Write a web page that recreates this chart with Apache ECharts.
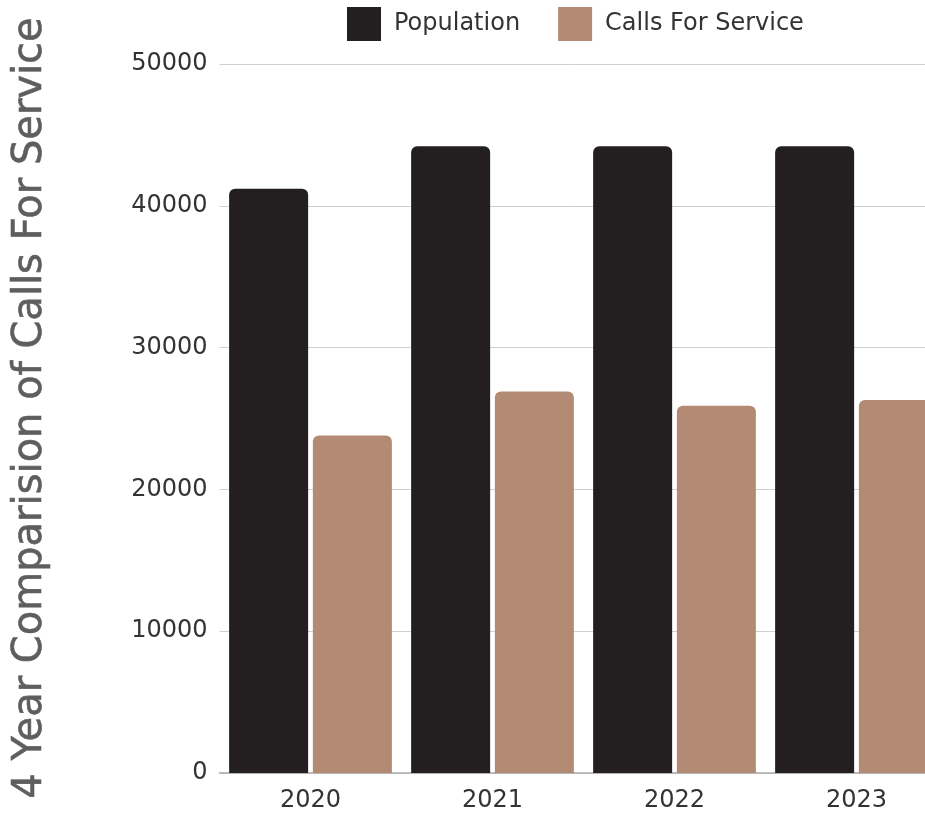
<!DOCTYPE html>
<html>
<head>
<meta charset="utf-8">
<script src="https://cdn.jsdelivr.net/npm/echarts@6/dist/echarts.min.js"></script>
<style>
html,body{margin:0;padding:0;background:#fff;}
#chart{width:925px;height:814px;}
</style>
</head>
<body>
<div id="chart"></div>
<script>
const years = ['2020', '2021', '2022', '2023'];
const population = [41200, 44200, 44200, 44200];
const callsForService = [23800, 26900, 25900, 26300];
const yTicks = [0, 10000, 20000, 30000, 40000, 50000];
const chartTitle = '4 Year Comparision of Calls For Service';
const seriesNames = ['Population', 'Calls For Service'];

const FONT = '"DejaVu Sans", sans-serif';
const chart = echarts.init(document.getElementById('chart'));
chart.setOption({
  backgroundColor: '#ffffff',
  animation: false,
  color: ['#231F20', '#B38B75'],
  legend: {
    top: 2,
    left: 342,
    itemWidth: 34,
    itemHeight: 34,
    itemGap: 38,
    icon: 'rect',
    textStyle: { fontFamily: FONT, fontSize: 24, color: '#333333', padding: [0, 0, 0, 8] },
    data: seriesNames
  },
  graphic: [{
    type: 'text',
    x: 31,
    y: 408,
    rotation: Math.PI / 2,
    style: {
      text: chartTitle,
      fontFamily: FONT,
      fontSize: 40,
      fill: '#5e5e5e',
      stroke: '#5e5e5e',
      lineWidth: 0.6,
      align: 'center',
      verticalAlign: 'middle'
    }
  }],
  grid: { left: 219.5, width: 728, top: 64, bottom: 41, containLabel: false, outerBoundsMode: 'none' },
  xAxis: {
    type: 'category',
    data: years,
    axisLine: { lineStyle: { color: '#aaaaaa', width: 1.5 } },
    axisTick: { show: false },
    axisLabel: { fontFamily: FONT, fontSize: 24, color: '#333333', margin: 16 }
  },
  yAxis: {
    type: 'value',
    min: yTicks[0],
    max: yTicks[yTicks.length - 1],
    interval: yTicks[1] - yTicks[0],
    axisLine: { show: false },
    axisTick: { show: false },
    splitLine: { lineStyle: { color: '#d0d0d0', width: 1 } },
    axisLabel: { fontFamily: FONT, fontSize: 24, color: '#333333', margin: 12, formatter: (v) => String(v) }
  },
  series: [
    {
      name: seriesNames[0],
      type: 'bar',
      data: population,
      barWidth: 79,
      barGap: '6%',
      itemStyle: { borderRadius: [6, 6, 0, 0] }
    },
    {
      name: seriesNames[1],
      type: 'bar',
      data: callsForService,
      barWidth: 79,
      barGap: '6%',
      itemStyle: { borderRadius: [6, 6, 0, 0] }
    }
  ]
});
</script>
</body>
</html>
